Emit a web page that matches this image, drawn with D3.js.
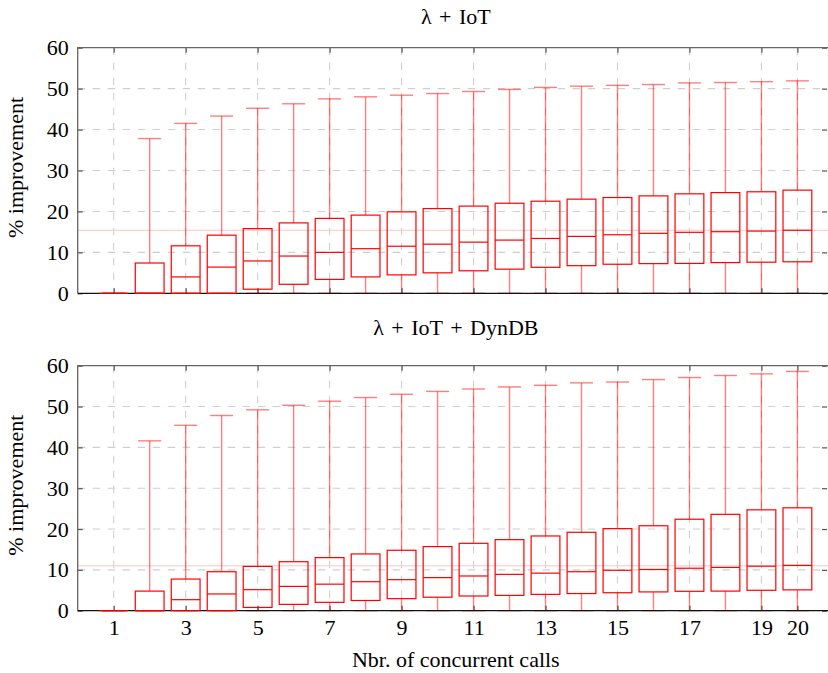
<!DOCTYPE html>
<html>
<head>
<meta charset="utf-8">
<script src="https://cdn.jsdelivr.net/npm/d3@7"></script>
<style>
  body { margin: 0; background: #fff; }
  text { font-family: "Liberation Serif", "DejaVu Serif", serif; fill: #000; }
</style>
</head>
<body>
<div id="chart"></div>
<script>
// number of concurrent calls (x categories)
const calls = [1, 2, 3, 4, 5, 6, 7, 8, 9, 10, 11, 12, 13, 14, 15, 16, 17, 18, 19, 20];
const xTickValues = [1, 3, 5, 7, 9, 11, 13, 15, 17, 19, 20];
const yTickValues = [0, 10, 20, 30, 40, 50, 60];

// lambda + IoT
const iotLow = [0, 0, 0, 0, 0, 0, 0, 0, 0, 0, 0, 0, 0, 0, 0, 0, 0, 0, 0, 0];
const iotQ1 = [0, 0, 0, 0, 1.0, 2.2, 3.4, 4.0, 4.5, 5.0, 5.5, 5.9, 6.35, 6.75, 7.1, 7.25, 7.3, 7.5, 7.6, 7.7];
const iotMed = [0, 0, 4.0, 6.4, 7.9, 9.1, 10.0, 10.9, 11.5, 12.0, 12.5, 13.0, 13.4, 13.9, 14.3, 14.65, 14.9, 15.05, 15.2, 15.4];
const iotQ3 = [0, 7.4, 11.6, 14.2, 15.8, 17.2, 18.3, 19.1, 19.9, 20.7, 21.3, 22.0, 22.5, 23.0, 23.4, 23.8, 24.3, 24.6, 24.8, 25.2];
const iotHigh = [0, 37.8, 41.5, 43.3, 45.2, 46.3, 47.5, 48.0, 48.4, 48.8, 49.3, 49.8, 50.3, 50.6, 50.8, 51.0, 51.4, 51.5, 51.7, 51.9];
const iotRef = 15.4;

// lambda + IoT + DynDB
const dynLow = [0, 0, 0, 0, 0, 0, 0, 0, 0, 0, 0, 0, 0, 0, 0, 0, 0, 0, 0, 0];
const dynQ1 = [0, 0, 0, 0, 0.8, 1.55, 2.05, 2.5, 2.95, 3.3, 3.6, 3.75, 4.0, 4.2, 4.4, 4.6, 4.75, 4.8, 5.0, 5.1];
const dynMed = [0, 0, 2.7, 4.1, 5.15, 5.95, 6.5, 7.1, 7.6, 8.1, 8.5, 8.9, 9.2, 9.55, 9.9, 10.1, 10.4, 10.6, 10.9, 11.1];
const dynQ3 = [0, 4.8, 7.75, 9.55, 10.85, 12.0, 13.0, 13.9, 14.8, 15.7, 16.5, 17.4, 18.3, 19.2, 20.1, 20.8, 22.4, 23.6, 24.7, 25.2];
const dynHigh = [0, 41.6, 45.4, 47.8, 49.2, 50.3, 51.3, 52.2, 53.0, 53.7, 54.3, 54.8, 55.2, 55.8, 56.0, 56.6, 57.1, 57.6, 58.0, 58.6];
const dynRef = 11.0;

const width = 828, height = 673;
const left = 77.7, right = 828;
const fontSize = 22;
const boxWidth = 0.8, capWidth = 0.64;

const svg = d3.select("#chart").append("svg")
    .attr("width", width)
    .attr("height", height);

const x = d3.scaleLinear().domain([0, 20.85]).range([left, right]);

//DRAW ONE PANEL
function drawPanel(opts) {
    const y = d3.scaleLinear().domain([0, 60]).range([opts.bottom, opts.top]);
    const g = svg.append("g");
    const rows = calls.map((c, i) => ({
        c: c, low: opts.low[i], q1: opts.q1[i], med: opts.med[i], q3: opts.q3[i], high: opts.high[i]
    }));

    // grid
    const grid = g.append("g").attr("class", "grid");
    grid.selectAll(".hgrid")
        .data(yTickValues.filter(v => v > 0 && v < 60))
        .enter().append("line")
        .attr("x1", left).attr("x2", right)
        .attr("y1", d => y(d)).attr("y2", d => y(d))
        .attr("stroke", "#d0d0d0").attr("stroke-width", 1.1)
        .attr("stroke-dasharray", "7.5,7.5");
    grid.selectAll(".vgrid")
        .data(xTickValues)
        .enter().append("line")
        .attr("x1", d => x(d)).attr("x2", d => x(d))
        .attr("y1", opts.top).attr("y2", opts.bottom)
        .attr("stroke", "#d0d0d0").attr("stroke-width", 1.1)
        .attr("stroke-dasharray", "7.5,7.5");

    // reference line
    g.append("line")
        .attr("x1", left).attr("x2", right)
        .attr("y1", y(opts.ref)).attr("y2", y(opts.ref))
        .attr("stroke", "#ffc4c4").attr("stroke-width", 1);

    // whiskers
    const wh = g.append("g")
        .attr("stroke", "rgba(255,0,0,0.5)")
        .attr("stroke-width", 1.4);
    wh.selectAll(".wup").data(rows).enter().append("line")
        .attr("x1", d => x(d.c)).attr("x2", d => x(d.c))
        .attr("y1", d => y(d.q3)).attr("y2", d => y(d.high));
    wh.selectAll(".wdown").data(rows).enter().append("line")
        .attr("x1", d => x(d.c)).attr("x2", d => x(d.c))
        .attr("y1", d => y(d.q1)).attr("y2", d => y(d.low));
    wh.selectAll(".capup").data(rows).enter().append("line")
        .attr("x1", d => x(d.c - capWidth / 2)).attr("x2", d => x(d.c + capWidth / 2))
        .attr("y1", d => y(d.high)).attr("y2", d => y(d.high));
    wh.selectAll(".capdown").data(rows).enter().append("line")
        .attr("x1", d => x(d.c - capWidth / 2)).attr("x2", d => x(d.c + capWidth / 2))
        .attr("y1", d => y(d.low)).attr("y2", d => y(d.low));

    // boxes
    const bx = g.append("g")
        .attr("stroke", "#ff0000")
        .attr("stroke-width", 1.2)
        .attr("fill", "none");
    bx.selectAll("rect").data(rows).enter().append("rect")
        .attr("x", d => x(d.c - boxWidth / 2))
        .attr("width", d => x(d.c + boxWidth / 2) - x(d.c - boxWidth / 2))
        .attr("y", d => y(d.q3))
        .attr("height", d => y(d.q1) - y(d.q3));
    bx.selectAll(".median").data(rows).enter().append("line")
        .attr("x1", d => x(d.c - boxWidth / 2)).attr("x2", d => x(d.c + boxWidth / 2))
        .attr("y1", d => y(d.med)).attr("y2", d => y(d.med));

    // axes with inward ticks
    const yLeft = g.append("g")
        .attr("transform", `translate(${left},0)`)
        .call(d3.axisLeft(y).tickValues(yTickValues).tickSizeInner(-5).tickSizeOuter(0).tickPadding(9));
    yLeft.selectAll("text").attr("font-size", fontSize).attr("font-family", "Liberation Serif");
    g.append("g")
        .attr("transform", `translate(${right - 1},0)`)
        .call(d3.axisRight(y).tickValues(yTickValues).tickSizeInner(-5).tickSizeOuter(0).tickFormat(""));
    const xBottom = g.append("g")
        .attr("transform", `translate(0,${opts.bottom})`)
        .call(d3.axisBottom(x).tickValues(xTickValues).tickSizeInner(-5).tickSizeOuter(0).tickPadding(9)
            .tickFormat(opts.showX ? d3.format("d") : ""));
    xBottom.selectAll("text").attr("font-size", fontSize).attr("font-family", "Liberation Serif");
    g.append("g")
        .attr("transform", `translate(0,${opts.top})`)
        .call(d3.axisTop(x).tickValues(xTickValues).tickSizeInner(-5).tickSizeOuter(0).tickFormat(""));
    g.selectAll(".domain").remove();
    g.selectAll(".tick line").attr("stroke", "#555").attr("stroke-width", 1.2);

    // frame
    g.append("path")
        .attr("d", `M${left},${opts.bottom}V${opts.top}H${right}`)
        .attr("fill", "none").attr("stroke", "#666").attr("stroke-width", 1.3);
    g.append("line")
        .attr("x1", left).attr("x2", right)
        .attr("y1", opts.bottom).attr("y2", opts.bottom)
        .attr("stroke", "#111").attr("stroke-width", 1.3);
    // redraw the zero-level box edges on top of the axis line
    bx.raise();

    // title
    g.append("text")
        .attr("x", (left + right) / 2 + 3)
        .attr("y", opts.titleY)
        .attr("text-anchor", "middle")
        .attr("font-size", fontSize)
        .attr("word-spacing", 2)
        .text(opts.title);

    // y label
    g.append("text")
        .attr("transform", `translate(23,${(opts.top + opts.bottom) / 2 - 3}) rotate(-90)`)
        .attr("text-anchor", "middle")
        .attr("font-size", fontSize)
        .text("% improvement");
}

drawPanel({
    title: "\u03bb + IoT", titleY: 24, top: 47.7, bottom: 293.3,
    low: iotLow, q1: iotQ1, med: iotMed, q3: iotQ3, high: iotHigh, ref: iotRef, showX: false
});
drawPanel({
    title: "\u03bb + IoT + DynDB", titleY: 335, top: 365.7, bottom: 610.7,
    low: dynLow, q1: dynQ1, med: dynMed, q3: dynQ3, high: dynHigh, ref: dynRef, showX: true
});

svg.append("text")
    .attr("x", (left + right) / 2 + 3)
    .attr("y", 667)
    .attr("text-anchor", "middle")
    .attr("font-size", fontSize)
    .text("Nbr. of concurrent calls");
</script>
</body>
</html>
